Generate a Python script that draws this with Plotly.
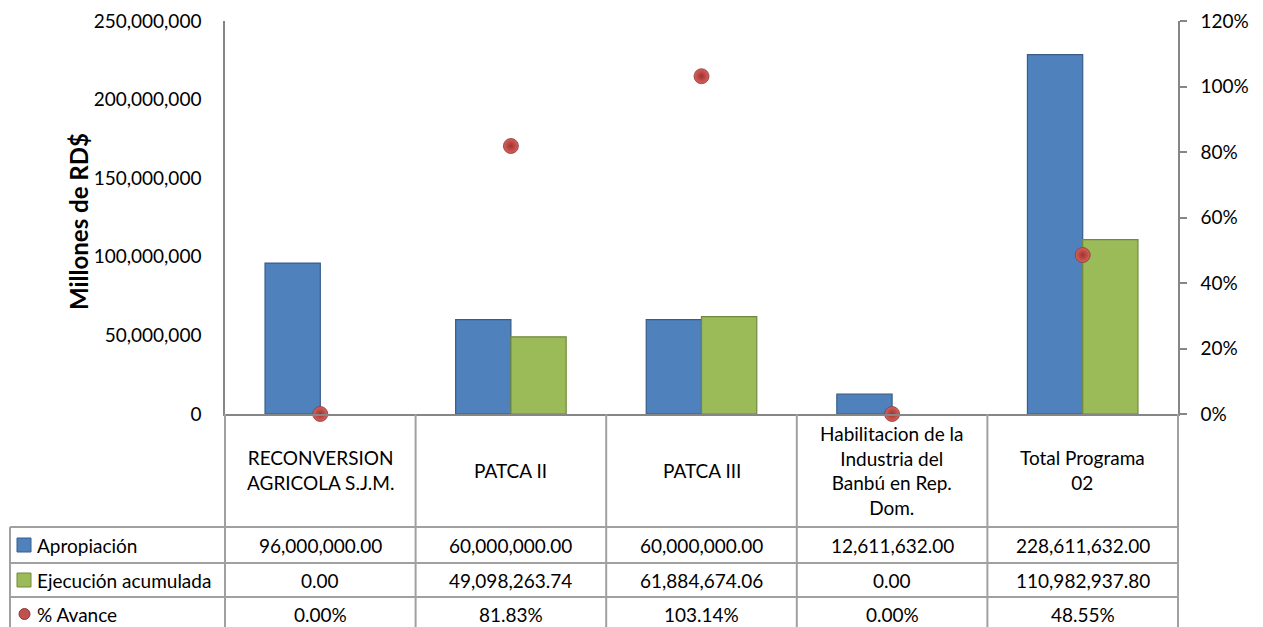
import plotly.graph_objects as go

# ---------------- data ----------------
categories = ["RECONVERSION<br>AGRICOLA S.J.M.", "PATCA II", "PATCA III",
              "Habilitacion de la<br>Industria del<br>Banbú en Rep.<br>Dom.",
              "Total Programa<br>02"]
apropiacion = [96000000.00, 60000000.00, 60000000.00, 12611632.00, 228611632.00]
ejecucion = [0.00, 49098263.74, 61884674.06, 0.00, 110982937.80]
avance = [0.0, 0.8183, 1.0314, 0.0, 0.4855]
series_names = ["Apropiación", "Ejecución acumulada", "% Avance"]
y_ticks = [0, 50000000, 100000000, 150000000, 200000000, 250000000]
y2_ticks = [0, 0.2, 0.4, 0.6, 0.8, 1.0, 1.2]

# ---------------- styling ----------------
FONT = "Lato, Roboto, 'Liberation Sans', sans-serif"
FS = 19
BLUE, BLUE_EDGE = "#4F81BD", "#385D8A"
GREEN, GREEN_EDGE = "#9BBB59", "#71893F"
RED, RED_EDGE = "#C0504D", "#8C3836"
AXIS = "#868686"
GRID = "#A0A0A0"

W_FIG, H_FIG = 1263, 627
L, R, T, B = 225, 1178, 21, 414
PW, PH = R - L, B - T


def px(x):
    return (x - L) / PW


def py(y):
    return (B - y) / PH


fig = go.Figure()
idx = list(range(len(categories)))
fig.add_trace(go.Bar(x=idx, y=apropiacion, name=series_names[0],
                     marker=dict(color=BLUE,
                                 line=dict(color=BLUE_EDGE,
                                           width=[1.2 if v > 0 else 0 for v in apropiacion]))))
fig.add_trace(go.Bar(x=idx, y=ejecucion, name=series_names[1],
                     marker=dict(color=GREEN,
                                 line=dict(color=GREEN_EDGE,
                                           width=[1.2 if v > 0 else 0 for v in ejecucion]))))
fig.add_trace(go.Scatter(x=idx, y=avance, name=series_names[2], yaxis="y2",
                         mode="markers", cliponaxis=False,
                         marker=dict(size=15, color="#D8605C",
                                     gradient=dict(type="radial", color="#9E3330"),
                                     line=dict(color=RED_EDGE, width=0.8))))

shapes = []
# table horizontal lines
row_lines = [527, 563, 597]
for yy in row_lines:
    shapes.append(dict(type="line", xref="paper", yref="paper",
                       x0=px(10), x1=px(R), y0=py(yy), y1=py(yy),
                       line=dict(color=GRID, width=2)))
# table vertical lines
for i in range(1, len(categories) + 1):
    xx = L + i * PW / len(categories)
    shapes.append(dict(type="line", xref="paper", yref="paper",
                       x0=px(xx), x1=px(xx), y0=py(B), y1=py(650),
                       line=dict(color=GRID, width=2)))
shapes.append(dict(type="line", xref="paper", yref="paper",
                   x0=0, x1=0, y0=py(B), y1=py(650),
                   line=dict(color=GRID, width=2)))
shapes.append(dict(type="line", xref="paper", yref="paper",
                   x0=px(10), x1=px(10), y0=py(527), y1=py(650),
                   line=dict(color=GRID, width=2)))

# legend icons in table
row_centers = [545, 580, 614]
icon_colors = [(BLUE, BLUE_EDGE), (GREEN, GREEN_EDGE)]
for k, (c, e) in enumerate(icon_colors):
    yc = row_centers[k]
    shapes.append(dict(type="rect", xref="paper", yref="paper",
                       x0=px(17), x1=px(31), y0=py(yc - 7), y1=py(yc + 7),
                       fillcolor=c, line=dict(color=e, width=1)))
shapes.append(dict(type="circle", xref="paper", yref="paper",
                   x0=px(19), x1=px(30), y0=py(row_centers[2] - 5.5),
                   y1=py(row_centers[2] + 5.5),
                   fillcolor=RED, line=dict(color=RED_EDGE, width=1)))

annotations = []
# category header labels
for i, cat in enumerate(categories):
    annotations.append(dict(x=i, xref="x", y=py(470.5), yref="paper",
                            text=cat, showarrow=False, xanchor="center",
                            yanchor="middle", align="center",
                            font=dict(family=FONT, size=FS, color="#000")))
# row labels
for k, name in enumerate(series_names):
    annotations.append(dict(x=px(35), xref="paper", y=py(row_centers[k]), yref="paper",
                            text=name, showarrow=False, xanchor="left",
                            yanchor="middle",
                            font=dict(family=FONT, size=FS, color="#000")))
# table values
rows = [
    [f"{v:,.2f}" for v in apropiacion],
    [f"{v:,.2f}" for v in ejecucion],
    [f"{v * 100:.2f}%" for v in avance],
]
for k, row in enumerate(rows):
    for i, txt in enumerate(row):
        annotations.append(dict(x=i, xref="x", y=py(row_centers[k]), yref="paper",
                                text=txt, showarrow=False, xanchor="center",
                                yanchor="middle",
                                font=dict(family=FONT, size=FS, color="#000")))
# y-axis title
annotations.append(dict(x=px(78), xref="paper", y=py(222), yref="paper",
                        text="<b>Millones de RD$</b>", textangle=-90,
                        showarrow=False, xanchor="center", yanchor="middle",
                        font=dict(family=FONT, size=24, color="#000")))

fig.update_layout(
    width=W_FIG, height=H_FIG,
    margin=dict(l=L, r=W_FIG - R, t=T, b=H_FIG - B, autoexpand=False),
    paper_bgcolor="white", plot_bgcolor="white",
    barmode="group", bargap=0.42, bargroupgap=0,
    showlegend=False,
    font=dict(family=FONT, size=FS, color="#000"),
    xaxis=dict(type="linear", range=[-0.5, len(categories) - 0.5],
               showticklabels=False, showgrid=False, zeroline=False,
               showline=True, linecolor=AXIS, linewidth=1.5, ticks=""),
    yaxis=dict(range=[0, 250000000], tickvals=y_ticks, tickformat=",",
               showgrid=False, zeroline=False, showline=True,
               linecolor=AXIS, linewidth=1.5, ticks="",
               ticklabelstandoff=18, automargin=False,
               tickfont=dict(family=FONT, size=FS, color="#000")),
    yaxis2=dict(range=[0, 1.2], tickvals=y2_ticks, tickformat=".0%",
                overlaying="y", side="right", showgrid=False, zeroline=False,
                showline=True, linecolor=AXIS, linewidth=1.5,
                ticks="outside", ticklen=7, tickcolor=AXIS, tickwidth=1.5,
                ticklabelstandoff=10, automargin=False,
                tickfont=dict(family=FONT, size=FS, color="#000")),
    shapes=shapes,
    annotations=annotations,
)

fig.write_html(
    "out.html",
    config={"displayModeBar": False},
    post_script="document.body.style.margin='0';document.body.style.overflow='hidden';",
)
